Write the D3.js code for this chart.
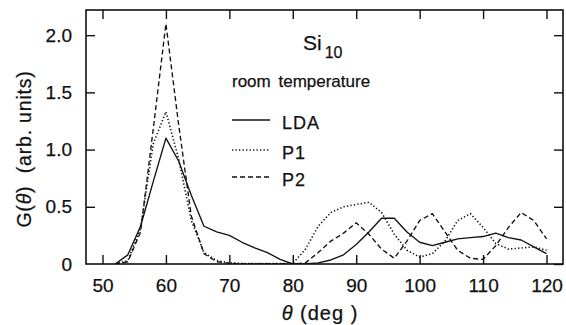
<!DOCTYPE html>
<html><head><meta charset="utf-8">
<script src="https://cdn.jsdelivr.net/npm/d3@7"></script>
<style>
html,body{margin:0;padding:0;background:#fff;}
svg{display:block;font-family:"Liberation Sans",Arial,sans-serif;}
</style></head>
<body>
<svg id="c" width="566" height="325"></svg>
<script>
const angles = [52,54,56,58,60,62,64,66,68,70,72,74,76,78,80,82,84,86,88,90,92,94,96,98,100,102,104,106,108,110,112,114,116,118,120];
const lda = [0,0.08,0.33,0.72,1.10,0.90,0.60,0.33,0.28,0.25,0.19,0.14,0.10,0.04,0.0,0.0,0.01,0.035,0.08,0.17,0.28,0.40,0.40,0.28,0.19,0.16,0.19,0.22,0.23,0.24,0.27,0.23,0.21,0.15,0.09];
const p1  = [0,0.03,0.31,1.05,1.33,0.92,0.38,0.10,0.03,0.01,0.005,0.005,0.005,0.005,0.005,0.13,0.33,0.45,0.50,0.52,0.54,0.45,0.26,0.12,0.06,0.09,0.20,0.38,0.44,0.32,0.18,0.13,0.14,0.15,0.12];
const p2  = [0,0.02,0.28,1.18,2.10,1.22,0.42,0.09,0.02,0.005,0.003,0.003,0.003,0.003,0.0,0.01,0.10,0.20,0.27,0.36,0.26,0.13,0.05,0.20,0.38,0.44,0.28,0.12,0.05,0.04,0.16,0.32,0.45,0.38,0.22];
const xTicks = [50,60,70,80,90,100,110,120];
const yTicks = [0,0.5,1.0,1.5,2.0];
const yTickLabels = ["0","0.5","1.0","1.5","2.0"];
const seriesNames = ["LDA","P1","P2"];
const dashes = [null,"1.3,2.2","5,3"];

const svg = d3.select("#c");
const L=86,R=563,T=10,B=264;
const x = d3.scaleLinear().domain([47.4,122.6]).range([L,R]);
const y = d3.scaleLinear().domain([0,2.22]).range([B,T]);
const ink = "#111";

svg.append("clipPath").attr("id","clip").append("rect").attr("x",L).attr("y",T).attr("width",R-L).attr("height",B-T);

const tl = 9;
const gx = svg.append("g").attr("transform",`translate(0,${B})`)
  .call(d3.axisBottom(x).tickValues(xTicks).tickSizeInner(-tl).tickSizeOuter(0).tickPadding(tl+6).tickFormat(d3.format("d")));
const gxt = svg.append("g").attr("transform",`translate(0,${T})`)
  .call(d3.axisTop(x).tickValues(xTicks).tickSizeInner(-tl).tickSizeOuter(0).tickFormat(""));
const gy = svg.append("g").attr("transform",`translate(${L},0)`)
  .call(d3.axisLeft(y).tickValues(yTicks).tickSizeInner(-tl).tickSizeOuter(0).tickPadding(tl+5).tickFormat((d,i)=>yTickLabels[i]));
const gyr = svg.append("g").attr("transform",`translate(${R},0)`)
  .call(d3.axisRight(y).tickValues(yTicks).tickSizeInner(-tl).tickSizeOuter(0).tickFormat(""));

[gx,gxt,gy,gyr].forEach(g=>{
  g.select(".domain").remove();
  g.selectAll("line").attr("stroke",ink).attr("stroke-width",1.4);
  g.selectAll("text").attr("fill",ink).attr("stroke",ink).attr("stroke-width",0.25)
    .style("font-size","19px").style("font-family","'Liberation Sans',Arial,sans-serif");
});
gy.selectAll(".tick").filter(d=>d===0).select("line").remove();

svg.append("rect").attr("x",L).attr("y",T).attr("width",R-L).attr("height",B-T)
  .attr("fill","none").attr("stroke",ink).attr("stroke-width",1.6);

const line = d3.line().x((d,i)=>x(angles[i])).y(d=>y(d));
const data = [lda,p1,p2];
const plot = svg.append("g").attr("clip-path","url(#clip)");
data.forEach((s,k)=>{
  plot.append("path").datum(s).attr("d",line).attr("fill","none")
    .attr("stroke",ink).attr("stroke-width",k===1?1.6:1.35)
    .attr("stroke-dasharray",dashes[k]).attr("stroke-linejoin","round");
});

const lg = svg.append("g").attr("fill",ink).attr("stroke",ink).attr("stroke-width",0.25);
const si = lg.append("text").attr("x",303).attr("y",50).style("font-size","21px");
si.append("tspan").text("Si");
si.append("tspan").attr("dx",3).attr("dy",8).style("font-size","16px").text("10");
lg.append("text").attr("x",232).attr("y",87).style("font-size","17px").style("word-spacing","3px").text("room temperature");
const rows=[120,150,177];
seriesNames.forEach((n,k)=>{
  lg.append("line").attr("x1",232).attr("x2",270).attr("y1",rows[k]).attr("y2",rows[k])
    .attr("stroke",ink).attr("stroke-width",k===1?1.6:1.35).attr("stroke-dasharray",dashes[k]);
  lg.append("text").attr("x",282).attr("y",rows[k]+9).style("font-size","18px").style("letter-spacing","1px").text(n);
});

svg.append("text").attr("x",320).attr("y",320).attr("text-anchor","middle").attr("fill",ink)
  .attr("stroke",ink).attr("stroke-width",0.25)
  .style("font-size","20px").style("letter-spacing","1px").attr("xml:space","preserve")
  .html('<tspan font-style="italic">θ</tspan> (deg )');
svg.append("text").attr("transform","translate(31,149) rotate(-90)").attr("text-anchor","middle").attr("fill",ink)
  .attr("stroke",ink).attr("stroke-width",0.25)
  .style("font-size","19.5px").style("letter-spacing","0.8px").attr("xml:space","preserve")
  .html('G(<tspan font-style="italic">θ</tspan>)  (arb. units)');
</script>
</body></html>
